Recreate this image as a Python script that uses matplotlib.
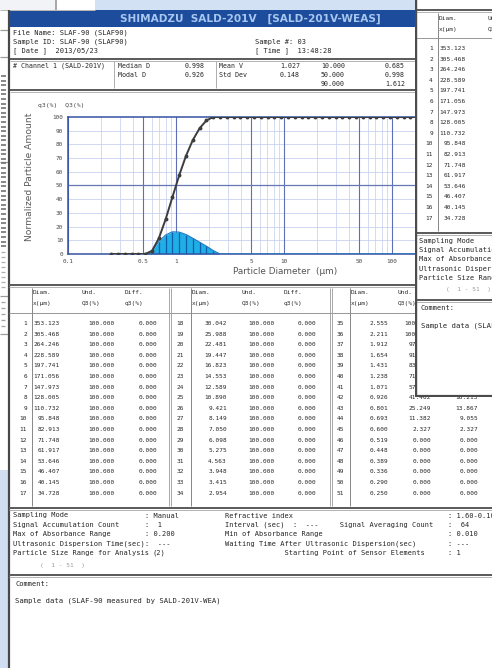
import numpy as np
import matplotlib
matplotlib.use("Agg")
import matplotlib.pyplot as plt
from matplotlib.patches import Rectangle, Polygon
from matplotlib.ticker import NullLocator

W, H, DPI = 492, 668, 100
MONO = "DejaVu Sans Mono"

# ---- measurement data (channel 1 = coarsest) ---------------------------
channels = list(range(1, 52))
diameters = [353.123, 305.468, 264.246, 228.589, 197.741, 171.056, 147.973, 128.005, 110.732, 95.848,
             82.913, 71.748, 61.917, 53.646, 46.407, 40.145, 34.728,
             30.042, 25.988, 22.481, 19.447, 16.823, 14.553, 12.589, 10.890, 9.421, 8.149, 7.050,
             6.098, 5.275, 4.563, 3.948, 3.415, 2.954,
             2.555, 2.211, 1.912, 1.654, 1.431, 1.238, 1.071, 0.926, 0.801, 0.693, 0.600,
             0.519, 0.448, 0.389, 0.336, 0.290, 0.250]
freq_q3 = [0.000] * 35 + [2.527, 5.702, 8.614, 11.482, 14.226, 15.987, 16.213, 13.867, 9.055, 2.327] + [0.000] * 6

size_ticks = [0.1, 0.5, 1, 5, 10, 50, 100]
size_tick_labels = ["0.1", "0.5", "1", "5", "10", "50", "100"]
pct_ticks = [0, 10, 20, 30, 40, 50, 60, 70, 80, 90, 100]
pct_tick_labels = ["0", "10", "20", "30", "40", "50", "60", "70", "80", "90", "100"]

title_text = "SHIMADZU  SALD-201V   [SALD-201V-WEAS]"
header_left = ["File Name: SLAF-90 (SLAF90)", "Sample ID: SLAF-90 (SLAF90)", "[ Date ]  2013/05/23"]
header_right = ["Sample #: 03", "[ Time ]  13:48:28"]
stat_names_a = ["Median D", "Modal D"]
stat_vals_a = ["0.998", "0.926"]
stat_names_b = ["Mean V", "Std Dev"]
stat_vals_b = ["1.027", "0.148"]
pct_points = ["10.000", "50.000", "90.000"]
pct_sizes = ["0.685", "0.998", "1.612"]
cond_left = [("Sampling Mode", ": Manual"),
             ("Signal Accumulation Count", ":  1"),
             ("Max of Absorbance Range", ": 0.200"),
             ("Ultrasonic Dispersion Time(sec)", ":  ---"),
             ("Particle Size Range for Analysis", "(2)")]
cond_right = [("Refractive index", ": 1.60-0.10i"),
              ("Interval (sec)  :  ---     Signal Averaging Count", ":  64"),
              ("Min of Absorbance Range", ": 0.010"),
              ("Waiting Time After Ultrasonic Dispersion(sec)", ": ---"),
              ("              Starting Point of Sensor Elements", ": 1")]
comment_lines = ["Comment:", "Sample data (SLAF-90 measured by SALD-201V-WEA)"]

diam = np.array(diameters)
q3 = np.array(freq_q3)
Q3 = np.cumsum(q3[::-1])[::-1]

PX = 0.72  # one pixel in points
INK = "#262626"


def px_rect(x0, y0, x1, y1):
    return [x0 / W, 1 - y1 / H, (x1 - x0) / W, (y1 - y0) / H]


def rect(ax, x0, y0, x1, y1, color, z=1):
    ax.add_patch(Rectangle((x0, y0), x1 - x0, y1 - y0, facecolor=color,
                           edgecolor="none", zorder=z))


def line(ax, xs, ys, color, w=1.0, z=2):
    ax.plot(xs, ys, color=color, lw=w * PX, zorder=z, solid_capstyle="butt")


def txt(ax, x, y, s, size=4.4, ha="left", color=INK, family=MONO, clip=None, **kw):
    t = ax.text(x, y, s, fontsize=size, ha=ha, va="center", family=family,
                color=color, clip_on=True, zorder=5, **kw)
    if clip is not None:
        t.set_clip_path(clip)
    return t


def separator(ax, x0, x1, y):
    rect(ax, x0, y, x1, y + 2.2, "#5d5d5d", z=3)
    line(ax, [x0, x1], [y + 3.2, y + 3.2], "#b5b5b5", 1.0, z=3)


def draw_lower(ax, ox=0.0, oy=0.0, clip=None):
    """Data table, measuring conditions and comment of the report window."""
    X = lambda v: v + ox
    Y = lambda v: v + oy
    T = lambda *a, **k: txt(ax, *a, clip=clip, **k)
    x0, x1 = X(9), X(W + 2)
    separator(ax, x0, x1, Y(283.5))

    blocks = [dict(idx=27, vl=32, d=60, Q=115, q=157, sep=170),
              dict(idx=184, vl=191, d=227, Q=275, q=316, sep=331),
              dict(idx=344, vl=350, d=388, Q=431, q=478, sep=None)]
    line(ax, [x0, x1], [Y(313), Y(313)], "#9a9a9a", 1.0)
    for b in blocks:
        line(ax, [X(b["vl"]), X(b["vl"])], [Y(288), Y(506)], "#8a8a8a", 1.0)
        if b["sep"] is not None:
            for dx in (-1.2, 1.2):
                line(ax, [X(b["sep"] + dx), X(b["sep"] + dx)], [Y(288), Y(506)], "#a0a0a0", 0.9)
        T(X(b["vl"] + 1), Y(293), "Diam.")
        T(X(b["vl"] + 1), Y(304), "x(\u00b5m)")
        T(X(b["Q"] - 33), Y(293), "Und.")
        T(X(b["Q"] - 33), Y(304), "Q3(%)")
        T(X(b["q"] - 32), Y(293), "Diff.")
        T(X(b["q"] - 32), Y(304), "q3(%)")

    for k, ch in enumerate(channels):
        b = blocks[k // 17]
        yy = Y(323.5 + 10.6 * (k % 17))
        T(X(b["idx"]), yy, str(ch), ha="right")
        T(X(b["d"]), yy, f"{diameters[k]:.3f}", ha="right")
        T(X(b["Q"]), yy, f"{Q3[k]:.3f}", ha="right")
        T(X(b["q"]), yy, f"{freq_q3[k]:.3f}", ha="right")

    separator(ax, x0, x1, Y(506.5))
    left_val_x = [145, 145, 145, 145, 152]
    for i, ((la, va), (lb, vb)) in enumerate(zip(cond_left, cond_right)):
        yy = Y(515.5 + 9.4 * i)
        T(X(13), yy, la, size=5.0)
        T(X(left_val_x[i]), yy, va, size=5.0)
        T(X(225), yy, lb, size=5.0)
        T(X(448), yy, vb, size=5.0)
    T(X(40), Y(565), "(  1 - 51  )", size=4.4, color="#9a9a9a")

    separator(ax, x0, x1, Y(573.5))
    T(X(15), Y(583.5), comment_lines[0], size=5.0)
    T(X(15), Y(601), comment_lines[1], size=5.2)


fig = plt.figure(figsize=(W / DPI, H / DPI), dpi=DPI)
fig.patch.set_facecolor("white")

# ---- desktop / window chrome -------------------------------------------
base = fig.add_axes([0, 0, 1, 1], zorder=0)
base.set_xlim(0, W)
base.set_ylim(H, 0)
base.axis("off")

# part of the main window that is not hidden by the second window
main_visible = Polygon([(0, 0), (415, 0), (415, 397), (W, 397), (W, H), (0, H)],
                       closed=True, transform=base.transData)

rect(base, 95, 0, 420, 10, "#d2e1f3")
rect(base, 0, 0, 55, 10, "#f1f3f6")
line(base, [56, 56], [0, 10], "#8c8c8c", 1.5)
line(base, [0, 95], [10, 10], "#b8b8b8", 1.0)
# window peeking out on the left
rect(base, 0, 470, 8, H, "#cfdef1")
for yy in (30, 57, 162, 296, 334):
    line(base, [0, 8], [yy, yy], "#9c9c9c", 1.2)
for yy in np.arange(76, 250, 4.6):
    line(base, [0.5, 6], [yy, yy], "#6e6e6e", 1.6)
for yy in np.arange(252, 292, 5.0):
    line(base, [0.5, 5], [yy, yy], "#b0b0b0", 1.3)
for yy in np.arange(302, 330, 6.0):
    line(base, [0.5, 5], [yy, yy], "#a4a4a4", 1.3)
line(base, [9, 9], [10, H], "#484848", 2.2)

# title bar
rect(base, 10, 10, 420, 27, "#1d4c9c")
tt = base.text(120, 18.5, title_text, fontsize=7.6, fontweight="bold", color="#a7c7f0",
               family="DejaVu Sans", va="center", ha="left", zorder=5, clip_on=True)
tt.set_clip_path(main_visible)

# header block
for i, s in enumerate(header_left):
    txt(base, 13, 33 + 8.6 * i, s, size=5.0)
for i, s in enumerate(header_right):
    txt(base, 255, 41.6 + 8.6 * i, s, size=5.0)
separator(base, 10, 420, 57.5)

# summary statistics
txt(base, 13, 66, "# Channel 1 (SALD-201V)", size=4.8)
for xv in (114, 216):
    line(base, [xv, xv], [61, 88], "#b0b0b0", 1.0)
for i in range(2):
    yy = 66 + 8.8 * i
    txt(base, 118, yy, stat_names_a[i], size=4.8)
    txt(base, 205, yy, stat_vals_a[i], size=4.8, ha="right")
    txt(base, 219, yy, stat_names_b[i], size=4.8)
    txt(base, 300, yy, stat_vals_b[i], size=4.8, ha="right")
for i in range(3):
    yy = 66 + 8.8 * i
    txt(base, 345, yy, pct_points[i], size=4.8, ha="right")
    txt(base, 405, yy, pct_sizes[i], size=4.8, ha="right")
separator(base, 10, 420, 88.5)

# chart captions
txt(base, 38, 105, "q3(%)  Q3(%)", size=4.6, color="#444444")
base.text(30, 177, "Normalized Particle Amount", rotation=90, fontsize=6.6,
          family="DejaVu Sans", color="#5a5a5a", ha="center", va="center", zorder=5)
base.text(285, 272, "Particle Diameter  (\u00b5m)", fontsize=6.4, family="DejaVu Sans",
          color="#555555", ha="center", va="center", zorder=5)

draw_lower(base, clip=main_visible)

# ---- particle size distribution chart ----------------------------------
ax = fig.add_axes(px_rect(68, 117, 500, 254), zorder=1)
ax.set_facecolor("white")
ax.set_xscale("log")
ax.set_xlim(0.1, 1000)
ax.set_ylim(0, 100)

for dec in (0.1, 1, 10, 100):
    for m in (2, 3, 4, 6, 7, 8, 9):
        ax.axvline(dec * m, color="#c9d1ee", lw=0.55, zorder=0)
for v in (0.1, 0.5, 1, 5, 10, 50, 100, 500):
    ax.axvline(v, color="#5d70b4", lw=0.8, zorder=0.5)
for v in range(10, 100, 10):
    ax.axhline(v, color="#c3cdee", lw=0.55, zorder=0)
ax.axhline(50, color="#6677b6", lw=0.9, zorder=0.5)

ax.fill_between(diam, 0, q3, color="#20aee6", lw=0, zorder=2)
ax.vlines(diam[q3 > 0], 0, q3[q3 > 0], color="#0d5fae", lw=0.9, zorder=2.5)
ax.plot(diam, q3, color="#1b78c4", lw=0.8, zorder=2.6)
ax.plot(diam, Q3, color="#3d3d3d", lw=1.4, marker="o", ms=1.8, zorder=3)

for side in ("left", "top", "bottom"):
    ax.spines[side].set_color("#3552a2")
    ax.spines[side].set_linewidth(1.1)
ax.spines["right"].set_visible(False)
ax.set_xticks(size_ticks)
ax.set_xticklabels(size_tick_labels)
ax.xaxis.set_minor_locator(NullLocator())
ax.set_yticks(pct_ticks)
ax.set_yticklabels(pct_tick_labels)
ax.tick_params(length=0, labelsize=4.3, colors="#4a4a4a", pad=3.5)
for lab in ax.get_xticklabels() + ax.get_yticklabels():
    lab.set_family(MONO)

# ---- second report window overlapping on the right ---------------------
rp = fig.add_axes(px_rect(415, 0, W, 397), zorder=2)
rp.set_xlim(415, W)
rp.set_ylim(397, 0)
rp.axis("off")
rect(rp, 415, 0, W, 397, "white", z=0)
draw_lower(rp, ox=406, oy=-275)
line(rp, [416.2, 416.2], [0, 397], "#4c4c4c", 2.4, z=6)
line(rp, [415, W], [396, 396], "#4c4c4c", 2.2, z=6)

fig.savefig("out.png", dpi=DPI, facecolor="white")
